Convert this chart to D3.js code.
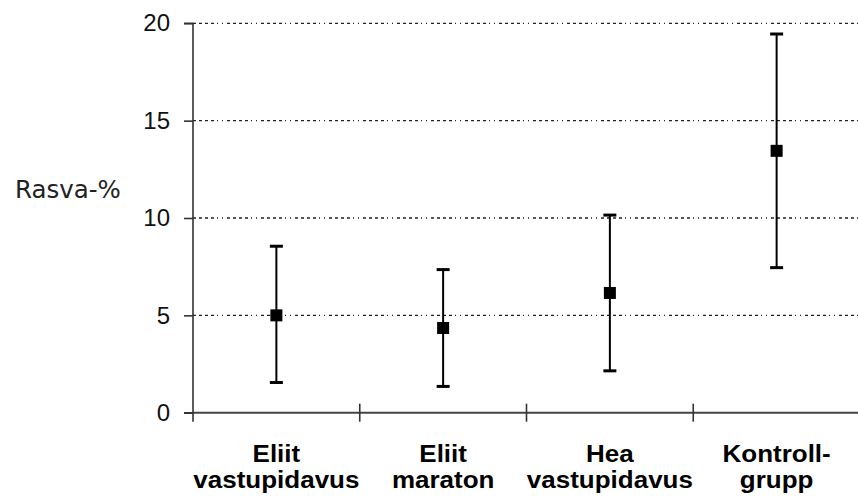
<!DOCTYPE html>
<html>
<head>
<meta charset="utf-8">
<script src="https://cdn.jsdelivr.net/npm/d3@7"></script>
<style>
  html, body { margin: 0; padding: 0; background: #fff; }
  svg { display: block; }
</style>
</head>
<body>
<script>
// Group labels (two lines each)
const groups = [
  ["Eliit", "vastupidavus"],
  ["Eliit", "maraton"],
  ["Hea", "vastupidavus"],
  ["Kontroll-", "grupp"]
];
// Mean body fat % and the spread shown by the whiskers
const means = [5.0, 4.35, 6.15, 13.45];
const lows  = [1.55, 1.35, 2.15, 7.45];
const highs = [8.55, 7.35, 10.15, 19.45];
const yTicks = [0, 5, 10, 15, 20];
const yTitle = "Rasva-%";

const W = 858, H = 500;
const plotLeft = 193, plotRight = 860, plotTop = 23.3, plotBottom = 412.7;

const svg = d3.select("body").append("svg")
  .attr("width", W).attr("height", H);

const ids = groups.map((g, i) => i);
const x = d3.scaleBand().domain(ids).range([plotLeft, plotRight]).paddingInner(0).paddingOuter(0);
const y = d3.scaleLinear().domain([0, 20]).range([plotBottom, plotTop]);

// Dotted horizontal grid
svg.append("g").selectAll("line")
  .data(yTicks.filter(t => t > 0))
  .join("line")
  .attr("x1", plotLeft).attr("x2", W)
  .attr("y1", d => y(d)).attr("y2", d => y(d))
  .attr("stroke", "#222").attr("stroke-width", 1.3)
  .attr("stroke-dasharray", "3,3,3,3,3,3,3,3,1,4,1,4");

// Y axis
const yAxis = d3.axisLeft(y).tickValues(yTicks).tickSize(9).tickPadding(14).tickFormat(d3.format("d"));
const gy = svg.append("g").attr("transform", `translate(${plotLeft},0)`).call(yAxis);
gy.select(".domain").attr("stroke", "#333").attr("stroke-width", 1.6).attr("d", `M-9,${plotTop}H0V${plotBottom}H-9`);
gy.selectAll(".tick line").attr("stroke", "#333").attr("stroke-width", 1.6);
gy.selectAll(".tick text")
  .attr("font-family", "'Liberation Sans', Arial, sans-serif")
  .attr("font-size", 24).attr("fill", "#111");

// X axis line with boundary ticks crossing it
svg.append("line")
  .attr("x1", plotLeft).attr("x2", W).attr("y1", plotBottom).attr("y2", plotBottom)
  .attr("stroke", "#444").attr("stroke-width", 2);
const boundaries = ids.slice(1).map(i => x(i));
svg.append("g").selectAll("line")
  .data(boundaries)
  .join("line")
  .attr("x1", d => d).attr("x2", d => d)
  .attr("y1", plotBottom - 9).attr("y2", plotBottom + 9)
  .attr("stroke", "#333").attr("stroke-width", 1.6);
svg.append("line")
  .attr("x1", plotLeft).attr("x2", plotLeft)
  .attr("y1", plotBottom).attr("y2", plotBottom + 9)
  .attr("stroke", "#333").attr("stroke-width", 1.6);

// Category labels: bold, slightly widened, two lines
const cx = i => x(i) + x.bandwidth() / 2;
const lab = svg.append("g").selectAll("text")
  .data(groups)
  .join("text")
  .attr("transform", (d, i) => `translate(${cx(i)},462) scale(1.13,1)`)
  .attr("text-anchor", "middle")
  .attr("font-family", "'Liberation Sans', Arial, sans-serif")
  .attr("font-weight", "bold")
  .attr("font-size", 23)
  .attr("fill", "#000");
lab.each(function(d) {
  const t = d3.select(this);
  d.forEach((line, k) => {
    t.append("tspan")
      .attr("x", 0)
      .attr("dy", k === 0 ? 0 : 26)
      .text(line);
  });
});

// Y title
svg.append("text")
  .attr("x", 15).attr("y", 198)
  .attr("font-family", "'DejaVu Sans', sans-serif")
  .attr("font-size", 24.5)
  .attr("fill", "#222")
  .text(yTitle);

// Error bars
const eb = svg.append("g");
eb.selectAll("line.stem")
  .data(ids).join("line").attr("class", "stem")
  .attr("x1", cx).attr("x2", cx)
  .attr("y1", i => y(lows[i])).attr("y2", i => y(highs[i]))
  .attr("stroke", "#000").attr("stroke-width", 2);
const capW = 13;
[lows, highs].forEach(arr => {
  eb.append("g").selectAll("line")
    .data(ids).join("line")
    .attr("x1", i => cx(i) - capW / 2).attr("x2", i => cx(i) + capW / 2)
    .attr("y1", i => y(arr[i])).attr("y2", i => y(arr[i]))
    .attr("stroke", "#000").attr("stroke-width", 3);
});

// Mean markers
const mk = 12;
svg.append("g").selectAll("rect")
  .data(ids).join("rect")
  .attr("x", i => cx(i) - mk / 2)
  .attr("y", i => y(means[i]) - mk / 2)
  .attr("width", mk).attr("height", mk)
  .attr("fill", "#000");
</script>
</body>
</html>
